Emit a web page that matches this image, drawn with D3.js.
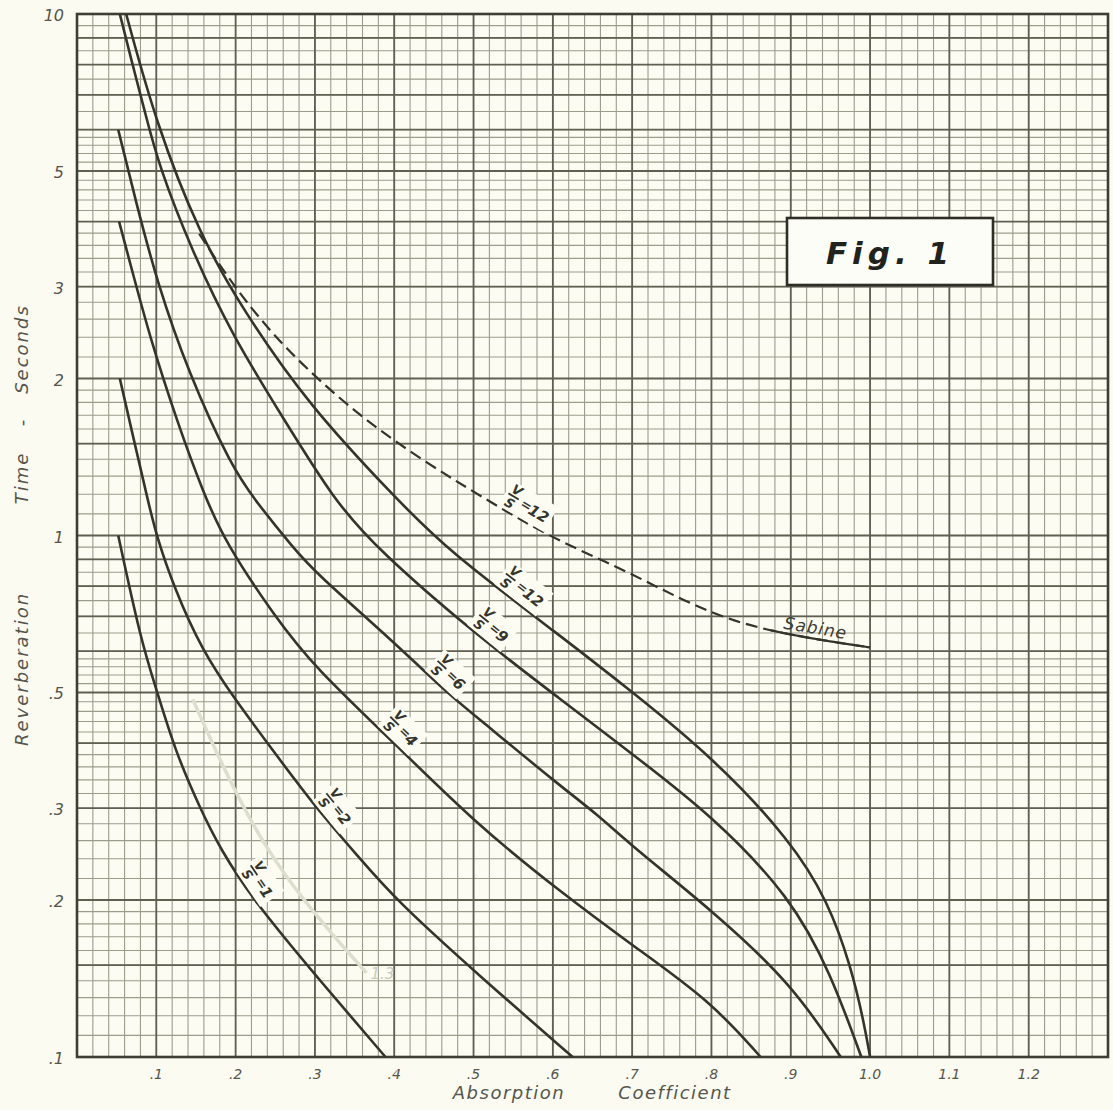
<!DOCTYPE html>
<html>
<head>
<meta charset="utf-8">
<script src="https://cdn.jsdelivr.net/npm/d3@7"></script>
<style>
  body { margin: 0; background: #fbfbf2; }
  svg { display: block; }
  text { font-family: "DejaVu Sans", sans-serif; font-style: italic; fill: #55554c; }
</style>
</head>
<body>
<svg id="chart"></svg>
<script>
// [absorption coefficient, reverberation time (s)]
const vs1 = [[0.052,1.0],[0.081,0.625],[0.1,0.508],[0.123,0.389],[0.155,0.30],[0.181,0.25],[0.222,0.2],[0.303,0.142],[0.389,0.1]];
const vs2 = [[0.054,2.0],[0.075,1.45],[0.089,1.175],[0.1,1.0],[0.123,0.79],[0.157,0.605],[0.199,0.485],[0.246,0.389],[0.3,0.302],[0.355,0.242],[0.402,0.2],[0.511,0.1415],[0.625,0.1]];
const vs4 = [[0.053,4.0],[0.07,3.2],[0.093,2.37],[0.127,1.64],[0.16,1.2],[0.187,0.97],[0.25,0.697],[0.3,0.558],[0.4,0.4],[0.503,0.28],[0.61,0.207],[0.702,0.163],[0.799,0.128],[0.862,0.1]];
const vs6 = [[0.052,6.0],[0.0745,4.35],[0.101,3.06],[0.14,2.06],[0.195,1.35],[0.228,1.15],[0.272,0.95],[0.3,0.85],[0.402,0.62],[0.466,0.5],[0.503,0.45],[0.61,0.33],[0.655,0.293],[0.702,0.252],[0.799,0.192],[0.9,0.139],[0.963,0.1]];
const vs9 = [[0.054,10],[0.07,8.0],[0.086,6.46],[0.103,5.13],[0.145,3.51],[0.197,2.4],[0.26,1.68],[0.323,1.175],[0.379,0.94],[0.503,0.645],[0.61,0.485],[0.7,0.381],[0.799,0.292],[0.9,0.203],[0.951,0.144],[0.989,0.1]];
const vs12 = [[0.062,10],[0.0997,6.17],[0.154,3.79],[0.209,2.71],[0.293,1.77],[0.403,1.175],[0.466,0.94],[0.61,0.641],[0.694,0.51],[0.803,0.374],[0.9,0.26],[0.947,0.199],[0.976,0.149],[0.992,0.117],[1.0,0.1]];
// Sabine, V/S = 12 (dashed), leaves the V/S = 12 curve near .15
const sabine = [[0.154,3.79],[0.197,3.01],[0.26,2.29],[0.356,1.69],[0.44,1.38],[0.509,1.19],[0.597,0.99],[0.694,0.855],[0.786,0.72],[0.871,0.653],[1.0,0.61]];
// faint pencil line marked 1.3
const pencil13 = [[0.146,0.485],[0.2345,0.242],[0.365,0.145]];

const xTicks = [0.1,0.2,0.3,0.4,0.5,0.6,0.7,0.8,0.9,1.0,1.1,1.2];
const xTickLabels = [".1",".2",".3",".4",".5",".6",".7",".8",".9","1.0","1.1","1.2"];
const yTicks = [10,5,3,2,1,0.5,0.3,0.2,0.1];
const yTickLabels = ["10","5","3","2","1",".5",".3",".2",".1"];

// which curve, its V/S value, and where along a the label sits
const curveLabels = [
  {pts: vs1, text: "1", at: 0.206},
  {pts: vs2, text: "2", at: 0.303},
  {pts: vs4, text: "4", at: 0.386},
  {pts: vs6, text: "6", at: 0.446},
  {pts: vs9, text: "9", at: 0.5},
  {pts: vs12, text: "12", at: 0.534},
  {pts: sabine, text: "12", at: 0.54}
];

const W = 1113, H = 1110;
const svg = d3.select("#chart").attr("width", W).attr("height", H);
svg.append("rect").attr("width", W).attr("height", H).attr("fill", "#fbfbf2");

const x = d3.scaleLinear().domain([0, 1.3]).range([77, 1108]);
const y = d3.scaleLog().domain([0.1, 10]).range([1057, 14]);

const paper = "#fcfcf3";
svg.append("rect")
  .attr("x", x(0)).attr("y", y(10))
  .attr("width", x(1.3) - x(0)).attr("height", y(0.1) - y(10))
  .attr("fill", paper);

// graph paper
const vMinor = d3.range(0, 66).map(i => i * 0.02);
const vMajor = d3.range(0, 14).map(i => i / 10);
const hMinor = [].concat(
  d3.range(10, 20).map(i => i / 100),
  d3.range(10, 30).map(i => i / 50),
  d3.range(12, 20).map(i => i / 20),
  d3.range(10, 20).map(i => i / 10),
  d3.range(10, 30).map(i => i / 5),
  d3.range(12, 21).map(i => i / 2)
);
const hMajor = [0.1,0.15,0.2,0.3,0.4,0.5,0.6,0.7,0.8,0.9,1,1.5,2,3,4,5,6,7,8,9,10];

const grid = svg.append("g");
grid.selectAll(".vmin").data(vMinor).join("line")
  .attr("x1", d => x(d)).attr("x2", d => x(d))
  .attr("y1", y(10)).attr("y2", y(0.1))
  .attr("stroke", "#9c9c8c").attr("stroke-width", 1.1);
grid.selectAll(".hmin").data(hMinor).join("line")
  .attr("x1", x(0)).attr("x2", x(1.3))
  .attr("y1", d => y(d)).attr("y2", d => y(d))
  .attr("stroke", "#9c9c8c").attr("stroke-width", 1.1);
grid.selectAll(".vmaj").data(vMajor).join("line")
  .attr("x1", d => x(d)).attr("x2", d => x(d))
  .attr("y1", y(10)).attr("y2", y(0.1))
  .attr("stroke", "#5f5f52").attr("stroke-width", 1.8);
grid.selectAll(".hmaj").data(hMajor).join("line")
  .attr("x1", x(0)).attr("x2", x(1.3))
  .attr("y1", d => y(d)).attr("y2", d => y(d))
  .attr("stroke", "#5f5f52").attr("stroke-width", 1.8);

svg.append("rect")
  .attr("x", x(0)).attr("y", y(10))
  .attr("width", x(1.3) - x(0)).attr("height", y(0.1) - y(10))
  .attr("fill", "none").attr("stroke", "#3e3e34").attr("stroke-width", 2.6);

// curves, smoothed through the read points
const line = d3.line().x(d => x(d[0])).y(d => y(d[1])).curve(d3.curveBasis);
const ink = "#34342b";

svg.append("path").datum(pencil13)
  .attr("d", line).attr("fill", "none")
  .attr("stroke", "#dedece").attr("stroke-width", 3.5);
svg.append("text").attr("x", x(0.37)).attr("y", y(0.145) + 6)
  .attr("font-size", 15).style("fill", "#cacaba").text("1.3");

const paths = new Map();
for (const pts of [vs1, vs2, vs4, vs6, vs9, vs12]) {
  const p = svg.append("path").datum(pts)
    .attr("d", line).attr("fill", "none")
    .attr("stroke", ink).attr("stroke-width", 2.6);
  paths.set(pts, p.node());
}
const sabNode = svg.append("path").datum(sabine)
  .attr("d", line).attr("fill", "none")
  .attr("stroke", ink).attr("stroke-width", 2.2)
  .attr("stroke-dasharray", "12 6").node();
paths.set(sabine, sabNode);

// find point on a drawn path at a given screen x, plus its direction
function along(node, px) {
  let lo = 0, hi = node.getTotalLength();
  for (let k = 0; k < 40; k++) {
    const mid = (lo + hi) / 2;
    if (node.getPointAtLength(mid).x < px) lo = mid; else hi = mid;
  }
  const p = node.getPointAtLength(lo);
  const p0 = node.getPointAtLength(Math.max(0, lo - 6));
  const p1 = node.getPointAtLength(lo + 6);
  return {x: p.x, y: p.y, len: lo, angle: Math.atan2(p1.y - p0.y, p1.x - p0.x) * 180 / Math.PI};
}

// last stretch of the Sabine curve is drawn solid under its name
{
  const total = sabNode.getTotalLength();
  const start = along(sabNode, x(0.875)).len;
  const tail = d3.range(start, total, 2).map(l => sabNode.getPointAtLength(l));
  tail.push(sabNode.getPointAtLength(total));
  svg.append("path").attr("d", d3.line().x(d => d.x).y(d => d.y)(tail))
    .attr("fill", "none").attr("stroke", ink).attr("stroke-width", 2.2);
}

const labG = svg.append("g");
curveLabels.forEach(l => {
  const p = along(paths.get(l.pts), x(l.at));
  const g = labG.append("g")
    .attr("transform", `translate(${p.x},${p.y}) rotate(${p.angle}) translate(0,-3)`);
  const w = 24 + l.text.length * 10;
  g.append("rect").attr("x", -9).attr("y", -27).attr("width", w + 9).attr("height", 29)
    .attr("fill", paper);
  const t = g.append("g").style("font-style", "normal").style("font-weight", "bold");
  t.append("text").attr("x", 0).attr("y", -16).attr("text-anchor", "middle")
    .attr("font-size", 13).style("fill", ink).text("V");
  t.append("line").attr("x1", -6).attr("x2", 6).attr("y1", -13.5).attr("y2", -13.5)
    .attr("stroke", ink).attr("stroke-width", 1.8);
  t.append("text").attr("x", 0).attr("y", -1).attr("text-anchor", "middle")
    .attr("font-size", 13).style("fill", ink).text("S");
  t.append("text").attr("x", 10).attr("y", -8)
    .attr("font-size", 13).style("fill", ink).text("=");
  t.append("text").attr("x", 20).attr("y", -6)
    .attr("font-size", 15).style("fill", ink).text(l.text);
});

// Sabine label
{
  const p = along(sabNode, x(0.93));
  svg.append("text")
    .attr("transform", `translate(${p.x},${p.y - 5}) rotate(${p.angle})`)
    .attr("text-anchor", "middle")
    .attr("font-size", 17).style("fill", "#3c3c33").style("letter-spacing", "1px")
    .text("Sabine");
}

// tick labels
svg.append("g").selectAll("text").data(xTicks).join("text")
  .attr("x", d => x(d)).attr("y", 1079)
  .attr("text-anchor", "middle").attr("font-size", 14)
  .text((d, i) => xTickLabels[i]);
svg.append("g").selectAll("text").data(yTicks).join("text")
  .attr("x", 64).attr("y", d => y(d) + 7)
  .attr("text-anchor", "end").attr("font-size", 16)
  .text((d, i) => yTickLabels[i]);

// axis titles, word by word as lettered on the plate
const xTitle = [["Absorption", 509], ["Coefficient", 675]];
svg.append("g").selectAll("text").data(xTitle).join("text")
  .attr("x", d => d[1]).attr("y", 1099)
  .attr("text-anchor", "middle").attr("font-size", 18)
  .style("letter-spacing", "1.5px")
  .text(d => d[0]);
const yTitle = [["Reverberation", 669], ["Time", 478], ["-", 422], ["Seconds", 349]];
svg.append("g").selectAll("text").data(yTitle).join("text")
  .attr("transform", d => `translate(28,${d[1]}) rotate(-90)`)
  .attr("text-anchor", "middle").attr("font-size", 18)
  .style("letter-spacing", "2px")
  .text(d => d[0]);

// figure tag
svg.append("rect").attr("x", 787).attr("y", 218).attr("width", 206).attr("height", 67)
  .attr("fill", "#fdfdf8").attr("stroke", "#2e2e27").attr("stroke-width", 2.6);
svg.append("text").attr("x", 890).attr("y", 264)
  .attr("text-anchor", "middle").attr("font-size", 31)
  .style("fill", "#22221c").style("letter-spacing", "5px").style("font-weight", "600")
  .text("Fig. 1");
</script>
</body>
</html>
